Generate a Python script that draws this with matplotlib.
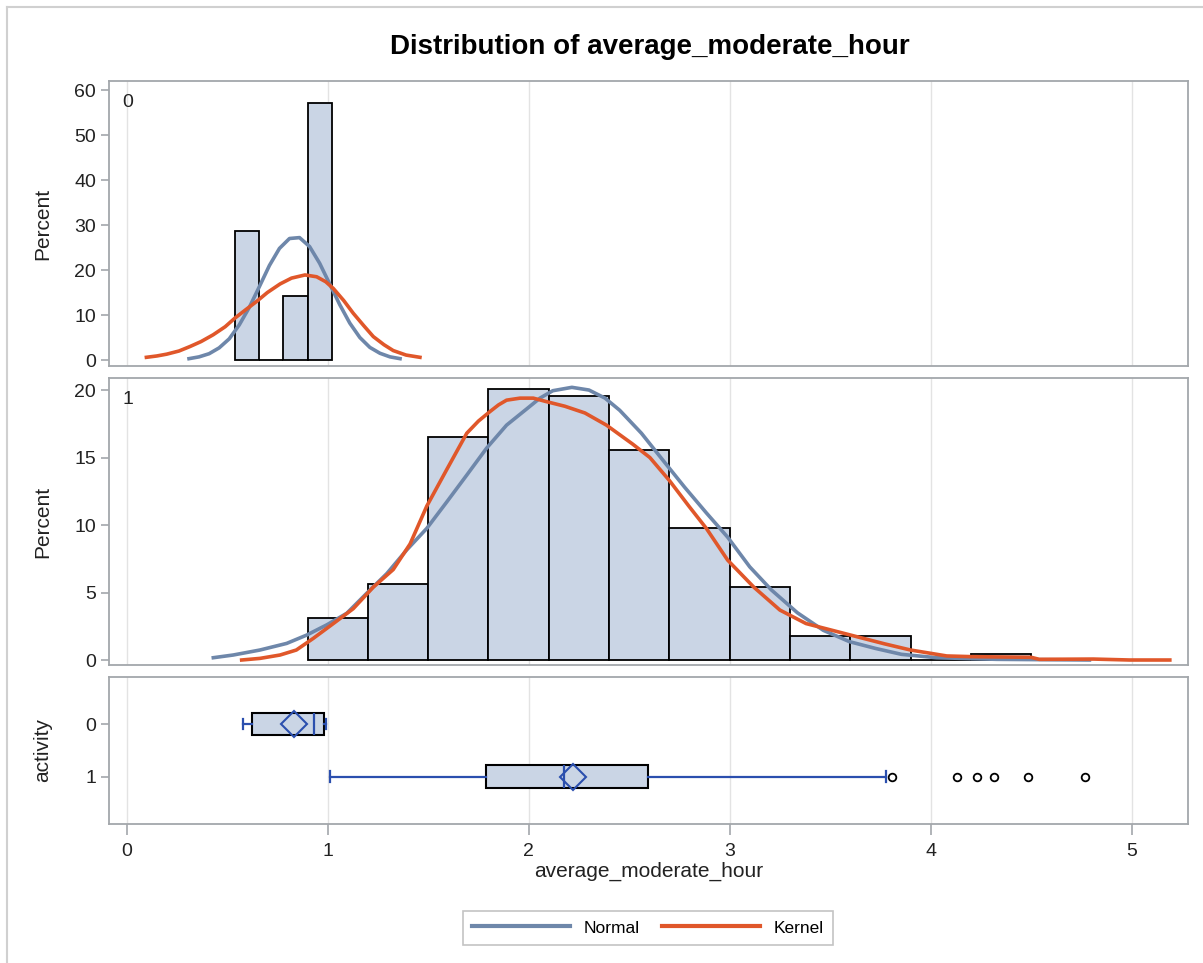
import matplotlib.pyplot as plt
from matplotlib.lines import Line2D

plt.rcParams['font.family'] = ['Liberation Sans', 'DejaVu Sans']

# histogram bins (left edge, right edge) and percents, activity = 0
bin_left_0 = [0.54, 0.66, 0.78, 0.90]
bin_right_0 = [0.66, 0.78, 0.90, 1.02]
pct_0 = [28.57, 0.0, 14.29, 57.14]

# histogram bins, activity = 1
bin_left_1 = [0.9, 1.2, 1.5, 1.8, 2.1, 2.4, 2.7, 3.0, 3.3, 3.6, 3.9, 4.2]
bin_right_1 = [1.2, 1.5, 1.8, 2.1, 2.4, 2.7, 3.0, 3.3, 3.6, 3.9, 4.2, 4.5]
pct_1 = [3.09, 5.6, 16.5, 20.1, 19.56, 15.56, 9.75, 5.43, 1.78, 1.78, 0.0, 0.44]

# fitted curves
normal_x_0 = [0.31, 0.36, 0.41, 0.46, 0.51, 0.56, 0.61, 0.66, 0.71, 0.76, 0.81,
              0.86, 0.91, 0.96, 1.01, 1.06, 1.11, 1.16, 1.21, 1.26, 1.31, 1.36]
normal_y_0 = [0.3, 0.7, 1.4, 2.7, 4.7, 7.8, 11.7, 16.3, 21.0, 24.8, 27.0,
              27.2, 25.2, 21.5, 16.9, 12.3, 8.2, 5.0, 2.8, 1.5, 0.7, 0.3]
kernel_x_0 = [0.098, 0.15, 0.199, 0.26, 0.315, 0.37, 0.43, 0.49, 0.538, 0.59,
              0.646, 0.70, 0.763, 0.82, 0.887, 0.945, 0.99, 1.028, 1.08, 1.127,
              1.18, 1.227, 1.28, 1.326, 1.39, 1.459]
kernel_y_0 = [0.6, 0.9, 1.3, 2.0, 3.0, 4.1, 5.6, 7.4, 9.3, 11.1,
              13.0, 15.0, 16.9, 18.2, 18.9, 18.5, 17.4, 15.9, 13.2, 10.4,
              7.6, 5.2, 3.4, 2.1, 1.1, 0.6]

normal_x_1 = [0.431, 0.53, 0.663, 0.796, 0.896, 0.995, 1.095, 1.194, 1.294, 1.393,
              1.493, 1.592, 1.692, 1.791, 1.89, 1.99, 2.056, 2.12, 2.215, 2.30,
              2.38, 2.453, 2.561, 2.668, 2.776, 2.884, 2.99, 3.1, 3.207, 3.337,
              3.466, 3.596, 3.725, 3.855, 4.03, 4.33, 4.79]
normal_y_1 = [0.17, 0.37, 0.74, 1.23, 1.85, 2.6, 3.46, 4.94, 6.4, 8.15,
              9.75, 11.7, 13.7, 15.7, 17.4, 18.6, 19.4, 19.95, 20.2, 20.0,
              19.4, 18.5, 16.8, 14.8, 12.8, 10.9, 9.1, 6.9, 5.2, 3.5,
              2.2, 1.36, 0.86, 0.42, 0.17, 0.05, 0.0]
kernel_x_1 = [0.572, 0.663, 0.763, 0.844, 0.928, 1.028, 1.127, 1.227, 1.326, 1.41,
              1.493, 1.592, 1.692, 1.75, 1.807, 1.85, 1.89, 1.957, 2.023, 2.086,
              2.18, 2.28, 2.387, 2.517, 2.603, 2.7, 2.797, 2.884, 2.99, 3.12,
              3.25, 3.38, 3.51, 3.64, 3.77, 3.9, 4.08, 4.2, 4.5, 4.54, 4.81,
              4.99, 5.19]
kernel_y_1 = [0.0, 0.12, 0.37, 0.74, 1.6, 2.7, 3.8, 5.4, 6.7, 8.6,
              11.4, 14.1, 16.8, 17.7, 18.4, 18.9, 19.25, 19.4, 19.4, 19.15,
              18.8, 18.3, 17.4, 16.0, 15.0, 13.3, 11.4, 9.75, 7.4, 5.4,
              3.7, 2.7, 2.2, 1.7, 1.2, 0.74, 0.3, 0.25, 0.2, 0.05, 0.07,
              0.0, 0.0]

# box plot summary per activity group
groups = ['0', '1']
q1 = [0.625, 1.789]
med = [0.934, 2.177]
q3 = [0.982, 2.596]
whis_lo = [0.58, 1.013]
whis_hi = [0.99, 3.777]
means = [0.832, 2.222]
outliers = [[], [3.809, 4.133, 4.231, 4.315, 4.483, 4.769]]

W, H = 1203, 963
fig = plt.figure(figsize=(W / 100, H / 100), dpi=100)

bar_fill = '#CAD5E5'
normal_col = '#6E87AA'
kernel_col = '#E0572A'
frame_col = '#A3A7AB'
grid_col = '#E3E3E3'
tick_col = '#222222'

left = 109.3 / W
width = (1187.5 - 109.3) / W


def panel(top_px, bottom_px):
    ax = fig.add_axes([left, 1 - bottom_px / H, width, (bottom_px - top_px) / H])
    for s in ax.spines.values():
        s.set_color(frame_col)
        s.set_linewidth(1.3)
    ax.set_xlim(-0.0866, 5.278)
    ax.set_xticks([0, 1, 2, 3, 4, 5])
    ax.grid(axis='x', color=grid_col, linewidth=1)
    ax.set_axisbelow(True)
    ax.tick_params(axis='both', colors=frame_col, labelcolor=tick_col,
                   labelsize=14, length=6, width=1.2)
    return ax


ax0 = panel(81, 366)
ax1 = panel(378.3, 665)
ax2 = panel(676.7, 824)

for ax, bl, br, pc, nx, ny, kx, ky, lab in [
        (ax0, bin_left_0, bin_right_0, pct_0, normal_x_0, normal_y_0, kernel_x_0, kernel_y_0, '0'),
        (ax1, bin_left_1, bin_right_1, pct_1, normal_x_1, normal_y_1, kernel_x_1, kernel_y_1, '1')]:
    widths = [r - l for l, r in zip(bl, br)]
    ax.bar(bl, pc, width=widths, align='edge', color=bar_fill,
           edgecolor='black', linewidth=1.3, zorder=2)
    ax.plot(nx, ny, color=normal_col, linewidth=2.6, zorder=3,
            solid_joinstyle='round')
    ax.plot(kx, ky, color=kernel_col, linewidth=2.6, zorder=4,
            solid_joinstyle='round')
    ax.tick_params(axis='x', bottom=False, labelbottom=False)
    ax.text(0.017, 0.925, lab, transform=ax.transAxes, fontsize=14,
            ha='center', va='center', color=tick_col)
    ax.set_ylabel('Percent', fontsize=15, color=tick_col)
    ax.yaxis.set_label_coords(-0.053, 0.5)

ax0.set_ylim(-1.33, 62)
ax0.set_yticks([0, 10, 20, 30, 40, 50, 60])
ax1.set_ylim(-0.37, 20.87)
ax1.set_yticks([0, 5, 10, 15, 20])

stats = []
for i in range(len(groups)):
    stats.append(dict(label=groups[i], q1=q1[i], med=med[i], q3=q3[i],
                      whislo=whis_lo[i], whishi=whis_hi[i], mean=means[i],
                      fliers=outliers[i]))
blue = '#2B4FAE'
ax2.bxp(stats, positions=[0, 1], widths=0.43, orientation='horizontal',
        patch_artist=True, showmeans=True, capwidths=0.2,
        boxprops=dict(facecolor=bar_fill, edgecolor='black', linewidth=1.5),
        whiskerprops=dict(color=blue, linewidth=1.6),
        capprops=dict(color=blue, linewidth=1.6),
        medianprops=dict(color=blue, linewidth=1.6),
        meanprops=dict(marker='D', markerfacecolor='none', markeredgecolor=blue,
                       markersize=13, markeredgewidth=1.5),
        flierprops=dict(marker='o', markerfacecolor='none', markeredgecolor='black',
                        markersize=5.5, markeredgewidth=1.3),
        zorder=3)
ax2.set_ylim(1.9, -0.9)
ax2.set_yticks([0, 1])
ax2.set_yticklabels(groups)
ax2.set_xticks([0, 1, 2, 3, 4, 5])
ax2.set_xticklabels(['0', '1', '2', '3', '4', '5'])
ax2.tick_params(axis='x', length=8, pad=6)
ax2.set_ylabel('activity', fontsize=15, color=tick_col)
ax2.yaxis.set_label_coords(-0.053, 0.5)
ax2.set_xlabel('average_moderate_hour', fontsize=15, color=tick_col, labelpad=1)

fig.text(650 / W, 1 - 47 / H, 'Distribution of average_moderate_hour',
         ha='center', va='center', fontsize=20, fontweight='bold')

handles = [Line2D([], [], color=normal_col, linewidth=3),
           Line2D([], [], color=kernel_col, linewidth=3)]
leg = fig.legend(handles, ['Normal', 'Kernel'], loc='center',
                 bbox_to_anchor=(648 / W, 1 - 928 / H), ncol=2, fontsize=12.5,
                 frameon=True, fancybox=False, edgecolor='#B5B5B5',
                 handlelength=5.6, handletextpad=0.8, columnspacing=1.3,
                 borderpad=0.55)
leg.get_frame().set_linewidth(1.2)

# outer graph border (left and top edges visible)
fig.add_artist(Line2D([7.3 / W, 7.3 / W], [0, 1 - 7.3 / H], color='#D0D0D0',
                      linewidth=1.5, transform=fig.transFigure))
fig.add_artist(Line2D([7.3 / W, 1], [1 - 7.3 / H, 1 - 7.3 / H], color='#D0D0D0',
                      linewidth=1.5, transform=fig.transFigure))

fig.savefig('out.png', dpi=100)
